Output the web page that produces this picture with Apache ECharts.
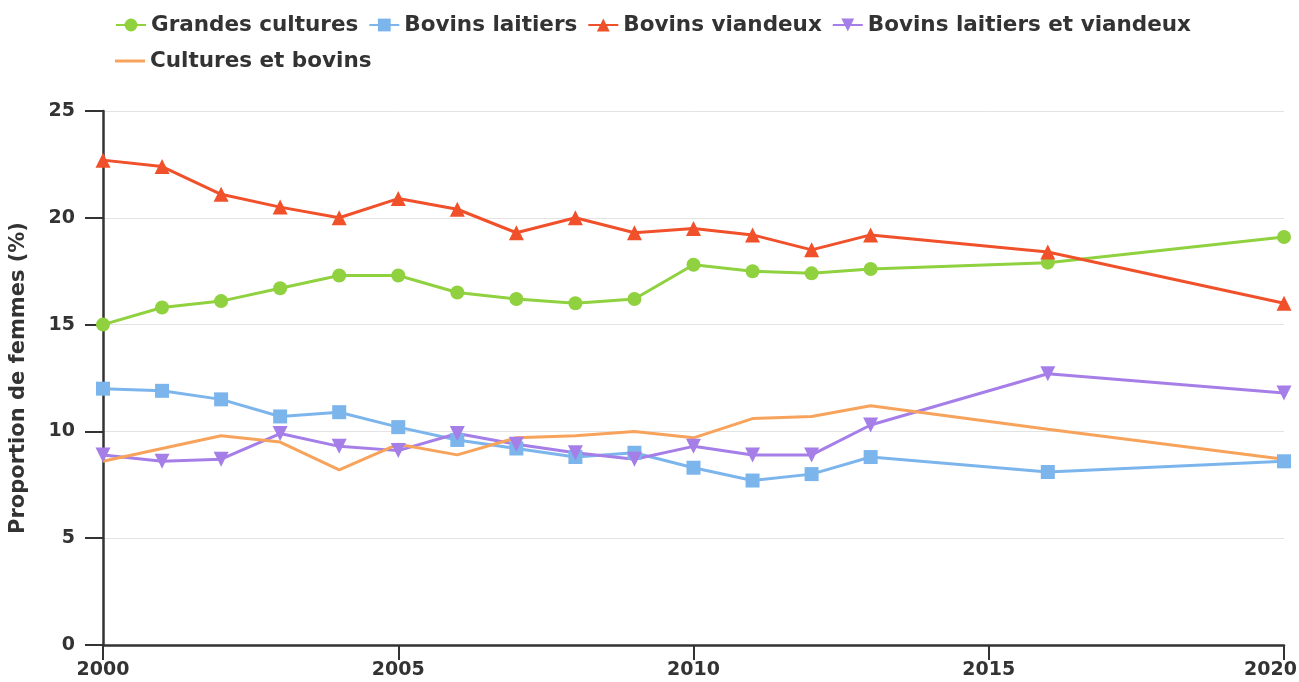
<!DOCTYPE html>
<html>
<head>
<meta charset="utf-8">
<script src="https://cdn.jsdelivr.net/npm/echarts@6/dist/echarts.min.js"></script>
<style>html,body{margin:0;padding:0;background:#fff}#c{width:1299px;height:682px}</style>
</head>
<body>
<div id="c"></div>
<script>
var years = [2000,2001,2002,2003,2004,2005,2006,2007,2008,2009,2010,2011,2012,2013,2016,2020];
var grandesCultures = [15.0,15.8,16.1,16.7,17.3,17.3,16.5,16.2,16.0,16.2,17.8,17.5,17.4,17.6,17.9,19.1];
var bovinsLaitiers = [12.0,11.9,11.5,10.7,10.9,10.2,9.6,9.2,8.8,9.0,8.3,7.7,8.0,8.8,8.1,8.6];
var bovinsViandeux = [22.7,22.4,21.1,20.5,20.0,20.9,20.4,19.3,20.0,19.3,19.5,19.2,18.5,19.2,18.4,16.0];
var bovinsLaitiersViandeux = [8.9,8.6,8.7,9.9,9.3,9.1,9.9,9.4,9.0,8.7,9.3,8.9,8.9,10.3,12.7,11.8];
var culturesBovins = [8.6,9.2,9.8,9.5,8.2,9.4,8.9,9.7,9.8,10.0,9.7,10.6,10.7,11.2,10.1,8.7];
var seriesNames = ['Grandes cultures','Bovins laitiers','Bovins viandeux','Bovins laitiers et viandeux','Cultures et bovins'];
var yTicks = [0,5,10,15,20,25];
var xTicks = [2000,2005,2010,2015,2020];

function pairs(vals){ return years.map(function(y,i){ return [y, vals[i]]; }); }

var font = 'DejaVu Sans';
var chart = echarts.init(document.getElementById('c'), null, {renderer:'canvas'});
function mkSeries(name, vals, color, symbol, size){
  return {
    name: name, type: 'line', data: pairs(vals),
    symbol: symbol, symbolSize: size, showSymbol: symbol !== 'none',
    lineStyle: {color: color, width: 3},
    itemStyle: {color: color},
    emphasis: {disabled: true},
    animation: false
  };
}
var legendText = {fontFamily: font, fontWeight: 'bold', fontSize: 21.5, color: '#333'};
chart.setOption({
  backgroundColor: '#fff',
  animation: false,
  legend: [
    {data: seriesNames.slice(0,4), left: 110, top: 9, itemWidth: 30, itemHeight: 16, itemGap: 10, textStyle: legendText, width: 1180},
    {data: [{name: seriesNames[4], icon: 'path://M0,0 L30,0 L30,3 L0,3 Z'}], left: 110, top: 45, itemWidth: 30, itemHeight: 16, itemGap: 10, textStyle: legendText}
  ],
  grid: {left: 103, right: 15, top: 111, bottom: 37, containLabel: false, outerBoundsMode: 'none'},
  xAxis: {
    type: 'value', min: xTicks[0], max: xTicks[xTicks.length-1], interval: 5,
    axisLine: {show: true, onZero: false, lineStyle: {color: '#333', width: 2.5}},
    axisTick: {show: true, length: 15, lineStyle: {color: '#333', width: 2}},
    axisLabel: {fontFamily: font, fontWeight: 'bold', fontSize: 19, color: '#333', margin: 16,
      formatter: function(v){ return v === xTicks[xTicks.length-1] ? '{m|' + v + '}' : String(v); },
      rich: {m: {fontFamily: font, fontWeight: 'bold', fontSize: 19, color: '#333', padding: [0, 27, 0, 0]}}},
    splitLine: {show: false}
  },
  yAxis: {
    type: 'value', min: yTicks[0], max: yTicks[yTicks.length-1], interval: 5,
    name: 'Proportion de femmes (%)', nameLocation: 'middle', nameGap: 74,
    nameTextStyle: {fontFamily: font, fontWeight: 'bold', fontSize: 21, color: '#333'},
    axisLine: {show: true, lineStyle: {color: '#333', width: 2.5}},
    axisTick: {show: true, length: 18, lineStyle: {color: '#333', width: 2}},
    axisLabel: {fontFamily: font, fontWeight: 'bold', fontSize: 19, color: '#333', margin: 28},
    splitLine: {show: true, lineStyle: {color: '#e3e3e3', width: 1}}
  },
  series: [
    mkSeries(seriesNames[0], grandesCultures, '#8fd13e', 'circle', 14),
    mkSeries(seriesNames[1], bovinsLaitiers, '#7cb5ec', 'rect', 14),
    mkSeries(seriesNames[2], bovinsViandeux, '#f0502a', 'triangle', 15),
    Object.assign(mkSeries(seriesNames[3], bovinsLaitiersViandeux, '#a57ee8', 'triangle', 15), {symbolRotate: 180}),
    mkSeries(seriesNames[4], culturesBovins, '#f7a35c', 'none', 0)
  ]
});
</script>
</body>
</html>
